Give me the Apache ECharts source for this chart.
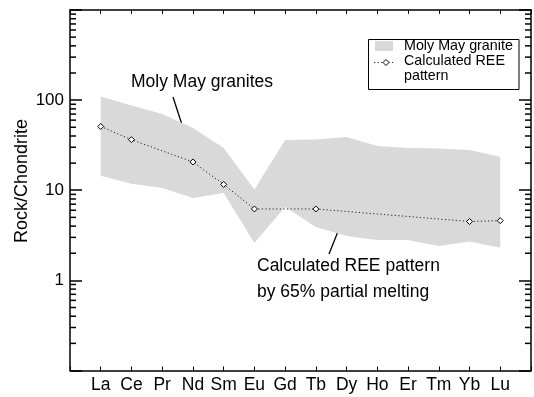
<!DOCTYPE html>
<html>
<head>
<meta charset="utf-8">
<script src="https://cdn.jsdelivr.net/npm/echarts@6/dist/echarts.min.js"></script>
<style>
  html, body { margin: 0; padding: 0; background: #fff; }
  #chart { width: 534px; height: 397px; }
</style>
</head>
<body>
<div id="chart"></div>
<script>
// REE elements along the x axis
const elements = ['La', 'Ce', 'Pr', 'Nd', 'Sm', 'Eu', 'Gd', 'Tb', 'Dy', 'Ho', 'Er', 'Tm', 'Yb', 'Lu'];
// Range of the Moly May granite samples (chondrite normalised)
const graniteMax = [110, 87, 70, 49, 29.5, 10.2, 36, 36.5, 39, 31, 29.5, 29, 28, 23.5];
const graniteMin = [14.5, 11.8, 10.6, 8.2, 9.3, 2.6, 6.5, 3.9, 3.1, 2.8, 2.8, 2.4, 2.7, 2.3];
// Calculated REE pattern (65% partial melting); null where no value is plotted
const calcREE = [51, 36.4, null, 20.6, 11.6, 6.2, null, 6.2, null, null, null, null, 4.5, 4.6];
// Labelled decades on the log axis
const yTickLabels = [1, 10, 100];
// Unlabelled minor ticks (2..9 within each decade)
const minorMantissas = [2, 3, 4, 5, 6, 7, 8, 9];
const minorDecades = [0.1, 1, 10, 100];

const FONT = '"Liberation Sans", Arial, Helvetica, sans-serif';
const BAND = '#d9d9d9';
const INK = '#000';

const minorTicks = [];
minorDecades.forEach(d => minorMantissas.forEach(m => minorTicks.push([0, +(m * d).toPrecision(6)])));

const chart = echarts.init(document.getElementById('chart'), null, { renderer: 'canvas' });

function isLabelled(v) {
  return yTickLabels.some(t => Math.abs(t - v) / t < 1e-6);
}

// Straight annotation arrow with an open head at (x2, y2)
function arrow(x1, y1, x2, y2) {
  const ang = Math.atan2(y2 - y1, x2 - x1);
  const len = 9, spread = 0.45;
  const a1 = [x2 - len * Math.cos(ang - spread), y2 - len * Math.sin(ang - spread)];
  const a2 = [x2 - len * Math.cos(ang + spread), y2 - len * Math.sin(ang + spread)];
  return [
    { type: 'line', shape: { x1, y1, x2, y2 }, style: { stroke: INK, lineWidth: 1.3 }, silent: true },
    { type: 'polyline', shape: { points: [a1, [x2, y2], a2] }, style: { stroke: INK, lineWidth: 1.3, fill: null }, silent: true }
  ];
}

const axisLineStyle = { color: INK, width: 1.5 };

const xAxisBase = {
  type: 'value', min: 0, max: 15, interval: 1,
  axisLine: { show: true, onZero: false, lineStyle: axisLineStyle },
  axisTick: { show: true, inside: true, length: 4, lineStyle: { color: INK, width: 1 } },
  splitLine: { show: false }
};

const yAxisBase = {
  type: 'log', logBase: 10, min: 0.1, max: 1000,
  axisLine: { show: true, onZero: false, lineStyle: axisLineStyle },
  axisTick: { show: true, inside: true, length: 12, lineStyle: { color: INK, width: 1.5 } },
  splitLine: { show: false }
};

const option = {
  animation: false,
  backgroundColor: '#fff',
  grid: { left: 70, top: 10, width: 467, height: 360.5, containLabel: false },
  xAxis: [
    Object.assign({}, xAxisBase, {
      position: 'bottom',
      axisLabel: {
        color: INK, fontSize: 17.5, fontFamily: FONT, margin: 6,
        formatter: v => elements[v - 1] || ''
      }
    }),
    Object.assign({}, xAxisBase, { position: 'top', axisLabel: { show: false } })
  ],
  yAxis: [
    Object.assign({}, yAxisBase, {
      position: 'left',
      axisLabel: {
        color: INK, fontSize: 17, fontFamily: FONT, margin: 6,
        formatter: v => isLabelled(v) ? String(Math.round(v)) : ''
      }
    }),
    Object.assign({}, yAxisBase, { position: 'right', axisLabel: { show: false } })
  ],
  series: [
    {
      name: 'Moly May granite',
      type: 'custom',
      silent: true,
      z: 1,
      data: [[1, 1]],
      renderItem: (params, api) => {
        const pts = [];
        graniteMax.forEach((v, i) => pts.push(api.coord([i + 1, v])));
        for (let i = graniteMin.length - 1; i >= 0; i--) pts.push(api.coord([i + 1, graniteMin[i]]));
        return { type: 'polygon', shape: { points: pts }, style: { fill: BAND } };
      }
    },
    {
      name: 'minor ticks',
      type: 'custom',
      silent: true,
      z: 5,
      clip: false,
      data: minorTicks,
      renderItem: (params, api) => {
        const cs = params.coordSys;
        const y = api.coord([1, api.value(1)])[1];
        const left = cs.x, right = cs.x + cs.width;
        return {
          type: 'group',
          children: [
            { type: 'line', shape: { x1: left, y1: y, x2: left + 6, y2: y }, style: { stroke: INK, lineWidth: 1.5 } },
            { type: 'line', shape: { x1: right - 6, y1: y, x2: right, y2: y }, style: { stroke: INK, lineWidth: 1.5 } }
          ]
        };
      }
    },
    {
      name: 'Calculated REE pattern',
      type: 'line',
      z: 3,
      data: calcREE.map((v, i) => [i + 1, v]).filter(d => d[1] !== null),
      symbol: 'diamond',
      symbolSize: 6,
      lineStyle: { color: '#222', width: 1, type: [1.2, 2.4] },
      itemStyle: { color: '#fff', borderColor: INK, borderWidth: 1 }
    }
  ],
  graphic: [
    // y axis title
    {
      type: 'text', x: 22, y: 181, rotation: Math.PI / 2,
      style: { text: 'Rock/Chondrite', fill: INK, font: '18px ' + FONT, align: 'center', verticalAlign: 'middle' }
    },
    // annotations
    {
      type: 'text', x: 202, y: 82,
      style: { text: 'Moly May granites', fill: INK, font: '17.5px ' + FONT, align: 'center', verticalAlign: 'middle' }
    },
    ...arrow(173, 97, 185, 134),
    {
      type: 'text', x: 257, y: 266,
      style: { text: 'Calculated REE pattern', fill: INK, font: '17.5px ' + FONT, align: 'left', verticalAlign: 'middle' }
    },
    {
      type: 'text', x: 257, y: 292,
      style: { text: 'by 65% partial melting', fill: INK, font: '17.5px ' + FONT, align: 'left', verticalAlign: 'middle' }
    },
    ...arrow(329, 254, 345, 214),
    // legend box
    {
      type: 'rect', shape: { x: 368.5, y: 39.5, width: 150.5, height: 50 },
      style: { fill: '#fff', stroke: INK, lineWidth: 1 }, z: 10
    },
    {
      type: 'rect', shape: { x: 375, y: 41, width: 18, height: 10 },
      style: { fill: BAND }, z: 11
    },
    {
      type: 'text', x: 404, y: 46.5, z: 11,
      style: { text: 'Moly May granite', fill: INK, font: '14.3px ' + FONT, align: 'left', verticalAlign: 'middle' }
    },
    {
      type: 'line', shape: { x1: 374, y1: 62.5, x2: 395, y2: 62.5 }, z: 11,
      style: { stroke: '#222', lineWidth: 1, lineDash: [1.2, 2.4] }
    },
    {
      type: 'polygon', shape: { points: [[386, 59.5], [389, 62.5], [386, 65.5], [383, 62.5]] }, z: 12,
      style: { fill: '#fff', stroke: INK, lineWidth: 1 }
    },
    {
      type: 'text', x: 404, y: 61.5, z: 11,
      style: { text: 'Calculated REE', fill: INK, font: '14.3px ' + FONT, align: 'left', verticalAlign: 'middle' }
    },
    {
      type: 'text', x: 404, y: 76, z: 11,
      style: { text: 'pattern', fill: INK, font: '14.3px ' + FONT, align: 'left', verticalAlign: 'middle' }
    }
  ]
};

chart.setOption(option);
</script>
</body>
</html>
